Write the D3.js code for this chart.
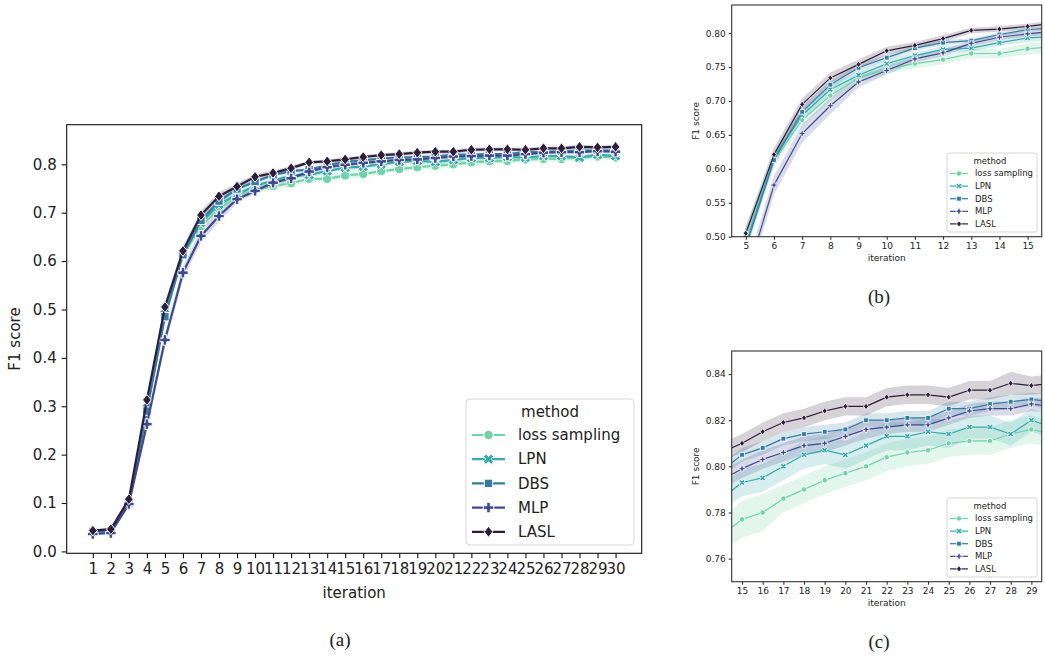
<!doctype html>
<html>
<head>
<meta charset="utf-8">
<title>F1 score by iteration</title>
<script src="https://cdn.jsdelivr.net/npm/d3@7/dist/d3.min.js"></script>
<style>
  body { margin: 0; background: #fff; }
  svg text { font-family: "DejaVu Sans", sans-serif; fill: #222; }
  .cap { font-family: "Liberation Serif", "DejaVu Serif", serif; }
</style>
</head>
<body>
<script>

// ---- data ----
var iterations = [1,2,3,4,5,6,7,8,9,10,11,12,13,14,15,16,17,18,19,20,21,22,23,24,25,26,27,28,29,30];
var methods = ["loss sampling", "LPN", "DBS", "MLP", "LASL"];
var colors = ["#72d3aa", "#38aaac", "#357ba3", "#3f4a8e", "#2e1e3b"];
var shapes = ["circle", "x", "square", "plus", "diamond"];

var lossSampling = [0.038,0.040,0.102,0.300,0.505,0.612,0.672,0.708,0.734,0.747,0.755,0.761,0.770,0.770,0.777,0.780,0.786,0.790,0.794,0.797,0.800,0.804,0.806,0.807,0.810,0.811,0.811,0.814,0.816,0.814];
var lpn = [0.039,0.041,0.103,0.295,0.490,0.617,0.679,0.717,0.738,0.755,0.767,0.776,0.778,0.786,0.793,0.795,0.800,0.805,0.807,0.805,0.809,0.813,0.813,0.815,0.814,0.817,0.817,0.814,0.820,0.817];
var dbs = [0.040,0.042,0.100,0.290,0.485,0.613,0.684,0.724,0.749,0.764,0.778,0.786,0.789,0.798,0.805,0.808,0.812,0.814,0.815,0.816,0.820,0.820,0.821,0.821,0.825,0.825,0.827,0.828,0.829,0.828];
var mlp = [0.036,0.038,0.098,0.263,0.437,0.576,0.652,0.693,0.728,0.745,0.762,0.771,0.785,0.794,0.799,0.803,0.806,0.809,0.810,0.813,0.816,0.817,0.818,0.818,0.821,0.824,0.825,0.825,0.827,0.826];
var lasl = [0.043,0.046,0.108,0.313,0.505,0.621,0.695,0.734,0.754,0.774,0.782,0.792,0.804,0.806,0.810,0.815,0.819,0.821,0.824,0.826,0.826,0.830,0.831,0.831,0.830,0.833,0.833,0.836,0.835,0.836];

// half widths of the confidence bands
var lossBand = [0.003,0.003,0.005,0.008,0.010,0.010,0.009,0.008,0.008,0.007,0.007,0.007,0.007,0.007,0.008,0.008,0.006,0.006,0.006,0.006,0.006,0.006,0.006,0.006,0.006,0.006,0.006,0.006,0.006,0.006];
var lpnBand = [0.003,0.003,0.005,0.008,0.010,0.009,0.008,0.007,0.006,0.006,0.005,0.005,0.005,0.005,0.006,0.006,0.006,0.006,0.006,0.006,0.006,0.006,0.006,0.006,0.006,0.005,0.005,0.005,0.005,0.005];
var dbsBand = [0.003,0.003,0.004,0.007,0.008,0.008,0.007,0.006,0.005,0.004,0.004,0.004,0.003,0.003,0.003,0.003,0.003,0.003,0.003,0.003,0.003,0.003,0.003,0.003,0.003,0.003,0.003,0.003,0.003,0.003];
var mlpBand = [0.003,0.003,0.005,0.010,0.014,0.014,0.013,0.012,0.008,0.006,0.005,0.005,0.004,0.004,0.004,0.004,0.004,0.004,0.004,0.004,0.004,0.003,0.003,0.003,0.003,0.003,0.003,0.003,0.003,0.003];
var laslBand = [0.003,0.003,0.004,0.008,0.010,0.010,0.009,0.008,0.007,0.006,0.005,0.005,0.004,0.004,0.004,0.004,0.004,0.004,0.004,0.004,0.004,0.004,0.004,0.004,0.004,0.004,0.004,0.005,0.004,0.004];

var mainYTicks = [0.0,0.1,0.2,0.3,0.4,0.5,0.6,0.7,0.8];
var bYTicks = [0.50,0.55,0.60,0.65,0.70,0.75,0.80];
var bXTicks = [5,6,7,8,9,10,11,12,13,14,15];
var cYTicks = [0.76,0.78,0.80,0.82,0.84];
var cXTicks = [15,16,17,18,19,20,21,22,23,24,25,26,27,28,29];

var series = [lossSampling, lpn, dbs, mlp, lasl];
var bands = [lossBand, lpnBand, dbsBand, mlpBand, laslBand];

var W = 1045, H = 658;
var svg = d3.select("body").append("svg").attr("width", W).attr("height", H);

// marker outlines, centered on 0,0, s = overall size
function markerPath(shape, s) {
  var h = s / 2;
  if (shape == "circle") {
    var r = s * 0.45;
    return "M" + r + ",0A" + r + "," + r + " 0 1,1 " + (-r) + ",0A" + r + "," + r + " 0 1,1 " + r + ",0Z";
  }
  if (shape == "square") {
    var q = s * 0.4;
    return "M" + (-q) + "," + (-q) + "H" + q + "V" + q + "H" + (-q) + "Z";
  }
  if (shape == "diamond") {
    var d = s * 0.52;
    return "M0," + (-d) + "L" + (d * 0.8) + ",0L0," + d + "L" + (-d * 0.8) + ",0Z";
  }
  var t = s * 0.17;
  var pts = [[-t,-h],[t,-h],[t,-t],[h,-t],[h,t],[t,t],[t,h],[-t,h],[-t,t],[-h,t],[-h,-t],[-t,-t]];
  if (shape == "x") {
    var c = Math.SQRT1_2;
    pts = pts.map(function (p) { return [(p[0] - p[1]) * c * 1.05, (p[0] + p[1]) * c * 1.05]; });
  }
  return "M" + pts.map(function (p) { return p[0].toFixed(2) + "," + p[1].toFixed(2); }).join("L") + "Z";
}

var clipId = 0;
function drawPanel(cfg) {
  var x = d3.scaleLinear().domain(cfg.xDomain).range([cfg.left, cfg.right]);
  var y = d3.scaleLinear().domain(cfg.yDomain).range([cfg.bottom, cfg.top]);
  var g = svg.append("g");

  var id = "clip" + (clipId++);
  g.append("clipPath").attr("id", id).append("rect")
    .attr("x", cfg.left).attr("y", cfg.top)
    .attr("width", cfg.right - cfg.left).attr("height", cfg.bottom - cfg.top);
  var plot = g.append("g").attr("clip-path", "url(#" + id + ")");

  var area = d3.area()
    .x(function (d, i) { return x(iterations[i]); })
    .y0(function (d) { return y(d[0]); })
    .y1(function (d) { return y(d[1]); });
  var line = d3.line()
    .x(function (d, i) { return x(iterations[i]); })
    .y(function (d) { return y(d); });

  series.forEach(function (vals, k) {
    var b = vals.map(function (v, i) { return [v - bands[k][i], v + bands[k][i]]; });
    plot.append("path").attr("d", area(b))
      .attr("fill", colors[k]).attr("fill-opacity", 0.2).attr("stroke", "none");
  });

  series.forEach(function (vals, k) {
    plot.append("path").attr("d", line(vals))
      .attr("fill", "none").attr("stroke", colors[k]).attr("stroke-width", cfg.lw)
      .attr("stroke-linejoin", "round");
    plot.selectAll(null).data(vals).enter().append("path")
      .attr("transform", function (d, i) { return "translate(" + x(iterations[i]) + "," + y(d) + ")"; })
      .attr("d", markerPath(shapes[k], cfg.ms))
      .attr("fill", colors[k]).attr("stroke", "#fff").attr("stroke-width", cfg.mew);
  });

  // frame
  g.append("rect")
    .attr("x", cfg.left).attr("y", cfg.top)
    .attr("width", cfg.right - cfg.left).attr("height", cfg.bottom - cfg.top)
    .attr("fill", "none").attr("stroke", cfg.frame).attr("stroke-width", cfg.frameW);

  var xa = g.append("g").attr("transform", "translate(0," + cfg.bottom + ")")
    .call(d3.axisBottom(x).tickValues(cfg.xTicks).tickFormat(d3.format("d")).tickSizeOuter(0).tickSize(cfg.tick).tickPadding(cfg.pad));
  var ya = g.append("g").attr("transform", "translate(" + cfg.left + ",0)")
    .call(d3.axisLeft(y).tickValues(cfg.yTicks).tickFormat(d3.format(cfg.yFmt)).tickSizeOuter(0).tickSize(cfg.tick).tickPadding(cfg.pad));
  [xa, ya].forEach(function (a) {
    a.select(".domain").remove();
    a.selectAll("line").attr("stroke", cfg.frame).attr("stroke-width", cfg.frameW);
    a.selectAll("text").attr("font-size", cfg.fs).attr("font-family", "DejaVu Sans").attr("fill", "#222");
  });

  g.append("text").attr("x", (cfg.left + cfg.right) / 2).attr("y", cfg.xLabelY)
    .attr("text-anchor", "middle").attr("font-size", cfg.fs).text("iteration");
  g.append("text")
    .attr("transform", "translate(" + cfg.yLabelX + "," + (cfg.top + cfg.bottom) / 2 + ") rotate(-90)")
    .attr("text-anchor", "middle").attr("font-size", cfg.fs).text("F1 score");

  // legend
  var L = cfg.legend;
  var lg = g.append("g");
  lg.append("rect").attr("x", L.x).attr("y", L.y).attr("width", L.w).attr("height", L.h)
    .attr("rx", L.rx).attr("fill", "#fff").attr("fill-opacity", 0.8)
    .attr("stroke", "#d6d6d6").attr("stroke-width", 1);
  lg.append("text").attr("x", L.titleX).attr("y", L.titleY).attr("dy", "0.35em")
    .attr("text-anchor", "middle").attr("font-size", L.fs).text("method");
  methods.forEach(function (m, k) {
    var yy = L.rowY + k * L.step;
    lg.append("line").attr("x1", L.hx0).attr("x2", L.hx1).attr("y1", yy).attr("y2", yy)
      .attr("stroke", colors[k]).attr("stroke-width", cfg.lw);
    lg.append("path").attr("transform", "translate(" + (L.hx0 + L.hx1) / 2 + "," + yy + ")")
      .attr("d", markerPath(shapes[k], cfg.ms))
      .attr("fill", colors[k]).attr("stroke", "#fff").attr("stroke-width", cfg.mew);
    lg.append("text").attr("x", L.tx).attr("y", yy).attr("dy", "0.35em")
      .attr("font-size", L.fs).text(m);
  });
}

// (a) full run
drawPanel({
  left: 66.7, right: 641.7, top: 124.7, bottom: 553.3,
  xDomain: [-0.45, 31.45], yDomain: [-0.0039, 0.8818],
  xTicks: iterations, yTicks: mainYTicks, yFmt: ".1f",
  lw: 2.2, ms: 10.5, mew: 1, frame: "#111", frameW: 1.1, tick: 5, pad: 5, fs: 15,
  xLabelY: 598, yLabelX: 20,
  legend: { x: 466, y: 399, w: 168, h: 146, rx: 4, fs: 15, titleX: 550, titleY: 412,
            rowY: 435, step: 24.2, hx0: 472, hx1: 505, tx: 518 }
});

// (b) iterations 5-15
drawPanel({
  left: 731.7, right: 1041.7, top: 5, bottom: 236.7,
  xDomain: [4.5, 15.5], yDomain: [0.5, 0.8415],
  xTicks: bXTicks, yTicks: bYTicks, yFmt: ".2f",
  lw: 1.2, ms: 6, mew: 0.8, frame: "#333", frameW: 1.1, tick: 3, pad: 3, fs: 9,
  xLabelY: 261, yLabelX: 699,
  legend: { x: 947, y: 153, w: 90, h: 79, rx: 2, fs: 8.5, titleX: 990, titleY: 161,
            rowY: 173.5, step: 12.6, hx0: 950, hx1: 968, tx: 975 }
});

// (c) iterations 15-29
drawPanel({
  left: 731.7, right: 1041.7, top: 351, bottom: 581.7,
  xDomain: [14.5, 29.5], yDomain: [0.75, 0.85],
  xTicks: cXTicks, yTicks: cYTicks, yFmt: ".2f",
  lw: 1.2, ms: 6, mew: 0.8, frame: "#333", frameW: 1.1, tick: 3, pad: 3, fs: 9,
  xLabelY: 606, yLabelX: 699,
  legend: { x: 947, y: 498, w: 90, h: 79, rx: 2, fs: 8.5, titleX: 990, titleY: 506,
            rowY: 518.5, step: 12.6, hx0: 950, hx1: 968, tx: 975 }
});

// sub-figure captions
svg.append("text").attr("class", "cap").attr("x", 340).attr("y", 646)
  .attr("text-anchor", "middle").attr("font-size", 19).text("(a)");
svg.append("text").attr("class", "cap").attr("x", 879).attr("y", 303)
  .attr("text-anchor", "middle").attr("font-size", 19).text("(b)");
svg.append("text").attr("class", "cap").attr("x", 879).attr("y", 648)
  .attr("text-anchor", "middle").attr("font-size", 19).text("(c)");

</script>
</body>
</html>
